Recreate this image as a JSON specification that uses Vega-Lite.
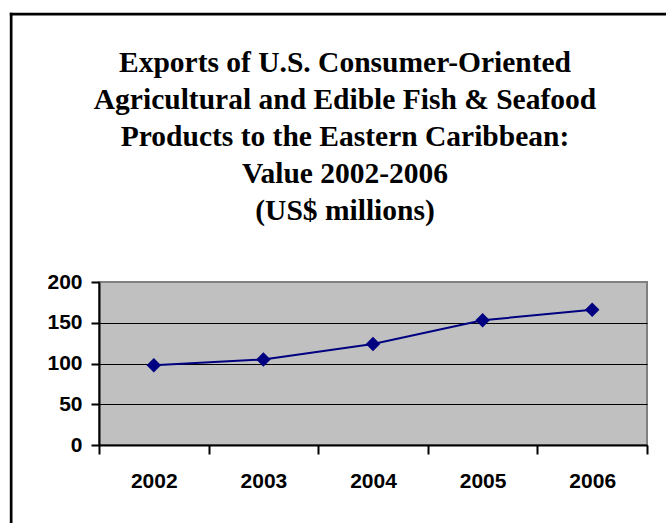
{
  "$schema": "https://vega.github.io/schema/vega-lite/v6.json",
  "width": 548,
  "height": 163,
  "autosize": {"type": "none"},
  "padding": {"left": 99, "top": 282, "right": 19, "bottom": 78},
  "background": "white",
  "title": {
    "text": ["Exports of U.S. Consumer-Oriented", "Agricultural and Edible Fish & Seafood", "Products to the Eastern Caribbean:", "Value 2002-2006", "(US$ millions)"],
    "font": "Liberation Serif",
    "fontSize": 29.5,
    "fontWeight": "bold",
    "lineHeight": 37,
    "color": "black",
    "anchor": "middle",
    "dx": -28,
    "offset": -213
  },
  "data": {
    "values": [
      {"year": "2002", "value": 98},
      {"year": "2003", "value": 105},
      {"year": "2004", "value": 124},
      {"year": "2005", "value": 153},
      {"year": "2006", "value": 166}
    ]
  },
  "layer": [
    {
      "encoding": {
        "x": {
          "field": "year",
          "type": "ordinal",
          "scale": {"paddingInner": 0, "paddingOuter": 0},
          "axis": {
            "title": null,
            "orient": "bottom",
            "labelAngle": 0,
            "tickBand": "extent",
            "tickSize": 9,
            "tickWidth": 2,
            "tickColor": "black",
            "domainColor": "black",
            "domainWidth": 2,
            "labelPadding": 16,
            "labelFont": "Liberation Sans",
            "labelFontWeight": "bold",
            "labelFontSize": 21,
            "labelColor": "black",
            "grid": false
          }
        },
        "y": {
          "field": "value",
          "type": "quantitative",
          "scale": {"domain": [0, 200], "nice": false},
          "axis": {
            "title": null,
            "orient": "left",
            "values": [0, 50, 100, 150, 200],
            "tickSize": 8,
            "tickWidth": 2,
            "tickColor": "black",
            "domainColor": "black",
            "domainWidth": 2,
            "labelPadding": 9,
            "labelFont": "Liberation Sans",
            "labelFontWeight": "bold",
            "labelFontSize": 21,
            "labelColor": "black",
            "grid": true,
            "gridColor": "black",
            "gridWidth": 1,
            "gridOpacity": {"condition": {"test": "datum.value >= 200", "value": 0}, "value": 1}
          }
        }
      },
      "layer": [
        {"mark": {"type": "line", "color": "#000080", "strokeWidth": 2}},
        {"mark": {"type": "point", "shape": "diamond", "filled": true, "size": 210, "color": "#000080", "opacity": 1}}
      ]
    },
    {
      "mark": {"type": "point", "opacity": 0},
      "encoding": {
        "x": {
          "datum": 0,
          "type": "quantitative",
          "scale": {"domain": [0, 1], "range": [-89.7, 580]},
          "axis": {"orient": "top", "offset": 268.35, "title": null, "labels": false, "ticks": false, "grid": false, "domain": true, "domainColor": "black", "domainWidth": 2.7}
        },
        "y": {
          "datum": 0,
          "type": "quantitative",
          "scale": {"domain": [0, 1], "range": [260, -269.7]},
          "axis": {"orient": "right", "offset": -636.35, "title": null, "labels": false, "ticks": false, "grid": false, "domain": true, "domainColor": "black", "domainWidth": 2.7}
        }
      }
    }
  ],
  "resolve": {"scale": {"x": "independent", "y": "independent"}, "axis": {"x": "independent", "y": "independent"}},
  "config": {"view": {"fill": "#C0C0C0", "stroke": "#808080", "strokeWidth": 2}}
}
